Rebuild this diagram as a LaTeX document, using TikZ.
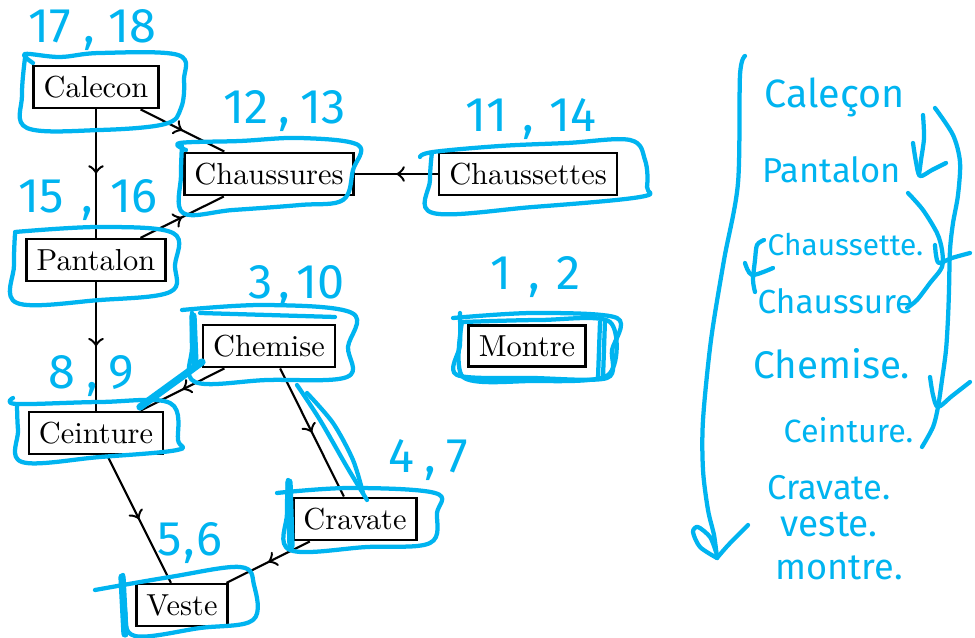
\documentclass[tikz,border=0pt]{standalone}
\usepackage{fontspec}
\usepackage{graphicx}
\usetikzlibrary{decorations.markings}
\newfontfamily\handfnt{Fira Sans}
\definecolor{hblue}{RGB}{0,180,240}
\begin{document}
\begin{tikzpicture}[x=0.011561cm, y=-0.011561cm,
 box/.style={draw, line width=0.85pt, inner sep=3.33pt},
 conn/.style={line width=0.7pt, postaction={decorate}, decoration={markings, mark=at position 0.5 with {\arrow[scale=1.15]{>}}}},
 hb/.style={draw=hblue, line width=1.4pt, line cap=round, line join=round},
 hbthick/.style={draw=hblue, line width=2.4pt, line cap=round, line join=round},
 num/.style={text=hblue, font=\handfnt\fontsize{16}{16}\selectfont, inner sep=0, anchor=base west},
 word/.style={text=hblue, font=\handfnt, inner sep=0, anchor=base west}]
\fill[white] (0,0) rectangle (975,638);
\useasboundingbox (0,0) rectangle (975,638);

% nodes
\node[box] (calecon) at (96,87) {Calecon};
\node[box] (chaussures) at (269,174) {Chaussures};
\node[box] (chaussettes) at (528,174) {Chaussettes};
\node[box] (pantalon) at (96,260) {Pantalon};
\node[box] (chemise) at (269,346) {Chemise};
\node[box] (montre) at (527,346) {Montre};
\node[box] (ceinture) at (96,433) {Ceinture};
\node[box] (cravate) at (355,519) {Cravate};
\node[box] (veste) at (182,605) {Veste};

% connectors
\draw[conn] (calecon) -- (pantalon);
\draw[conn] (calecon) -- (chaussures);
\draw[conn] (pantalon) -- (chaussures);
\draw[conn] (chaussettes) -- (chaussures);
\draw[conn] (pantalon) -- (ceinture);
\draw[conn] (chemise) -- (ceinture);
\draw[conn] (chemise) -- (cravate);
\draw[conn] (ceinture) -- (veste);
\draw[conn] (cravate) -- (veste);

% hand-drawn loops around nodes
\draw[hb] plot[smooth, tension=0.6] coordinates {(33,63) (25,54) (60,57) (100,53) (178,55) (184,80) (181,108) (165,124) (100,130) (27,128) (22,95) (25,58)};
\draw[hb] plot[smooth, tension=0.6] coordinates {(186,150) (180,143) (240,141) (300,138) (358,145) (353,170) (343,200) (300,205) (233,210) (183,213) (181,175) (182,146)};
\draw[hb] plot[smooth, tension=0.6] coordinates {(420,157) (433,152) (500,146) (567,143) (630,140) (645,160) (647,187) (640,197) (533,207) (433,213) (430,180) (432,152)};
\draw[hb] plot[smooth, tension=0.6] coordinates {(15,232) (100,227) (173,233) (175,265) (170,292) (100,300) (17,303) (14,265) (15,234)};
\draw[hb] plot[smooth, tension=0.6] coordinates {(182,310) (267,305) (352,313) (348,347) (347,377) (267,380) (195,382) (192,347) (192,313)};
\draw[hb] (200,313) -- (335,317);
\draw[hbthick] (193,316) -- (195,364);
\draw[hb] plot[smooth, tension=0.6] coordinates {(13,398) (17,404) (100,402) (170,403) (178,440) (177,450) (100,457) (22,462) (18,430) (17,404)};
\draw[hb] plot[smooth, tension=0.6] coordinates {(277,493) (350,488) (435,493) (437,513) (430,543) (367,547) (290,550) (287,513) (288,480)};
\draw[hbthick] (289,482) -- (291,546);
\draw[hb] plot[smooth, tension=0.6] coordinates {(95,590) (170,577) (240,567) (254,585) (253,620) (200,628) (135,636) (125,610) (123,575)};
\draw[hbthick] (122,577) -- (125,634);
\draw[hb] plot[smooth, tension=0.5] coordinates {(453,318) (533,313) (617,318) (612,350) (607,378) (533,378) (457,375) (460,345) (460,313)};
\draw[hb] plot[smooth, tension=0.5] coordinates {(462,322) (540,320) (610,322) (608,375) (530,381) (463,377) (462,322)};
\draw[hb] (600,322) -- (598,378);
\draw[hb] (605,320) -- (603,378);

% extra strokes over connectors
\draw[hbthick] (202,362) -- (140,407);
\draw[hb] (193,370) -- (147,403);
\draw[hb] plot[smooth] coordinates {(297,385) (320,420) (347,467) (367,500)};
\draw[hb] plot[smooth] coordinates {(307,393) (333,423) (353,460) (363,493)};

% numbers
\node[num] (n1718) at (28,43) {17\hspace{4.2pt},\hspace{4.2pt}18};
\node[num] (n1213) at (223,124) {12\hspace{3.3pt},\hspace{3.3pt}13};
\node[num] (n1114) at (465,132) {11\hspace{5.1pt},\hspace{5.1pt}14};
\node[num] (n1516) at (18,213) {15\hspace{5.8pt},\hspace{5.8pt}16};
\node[num] (n310) at (248,299) {3\hspace{2pt},\hspace{2pt}10};
\node[num] (n12) at (490,290) {1\hspace{5.5pt},\hspace{5.5pt}2};
\node[num] (n89) at (48,389) {8\hspace{3.6pt},\hspace{3.6pt}9};
\node[num] (n47) at (388,473) {4\hspace{3.3pt},\hspace{3.3pt}7};
\node[num] (n56) at (157,556) {5\hspace{0.5pt},\hspace{0.5pt}6};

% right list
\node[word] (w1) at (764,108) {\resizebox{1.62cm}{!}{Caleçon}};
\node[word] (w2) at (762,183) {\resizebox{1.6cm}{!}{Pantalon}};
\node[word] (w3) at (767,256) {\resizebox{1.8cm}{!}{Chaussette.}};
\node[word] (w4) at (757,314) {\resizebox{1.8cm}{!}{Chaussure}};
\node[word] (w5) at (753,379) {\resizebox{1.81cm}{!}{Chemise.}};
\node[word] (w6) at (783,443) {\resizebox{1.5cm}{!}{Ceinture.}};
\node[word] (w7) at (767,499) {\resizebox{1.42cm}{!}{Cravate.}};
\node[word] (w8) at (780,536) {\resizebox{1.12cm}{!}{veste.}};
\node[word] (w9) at (775,579) {\resizebox{1.47cm}{!}{montre.}};

% big order arrow
\draw[hb] plot[smooth] coordinates {(745,56) (740,75) (738,183) (724,260) (711,340) (703,420) (703,470) (708,510) (714,535) (717,558)};
\draw[hb] (717,558) .. controls (728,545) .. (748,525);
\draw[hb] plot[smooth] coordinates {(717,558) (700,547) (693,532) (698,527) (710,537) (716,552)};

% swap strokes
\draw[hb] plot[smooth] coordinates {(923,115) (924,138) (921,160) (919,175)};
\draw[hb] plot[smooth] coordinates {(913,143) (916,162) (920,176) (932,170) (946,163)};
\draw[hb] plot[smooth] coordinates {(935,108) (953,135) (960,162) (958,195) (953,223) (950,250) (949,290) (948,318) (946,350) (942,380) (938,407) (933,427) (922,447)};
\draw[hb] plot[smooth] coordinates {(930,377) (933,395) (938,407) (952,396) (970,382)};
\draw[hb] plot[smooth] coordinates {(908,193) (923,210) (937,233) (942,250) (942,267) (930,283) (917,300) (907,308)};
\draw[hb] plot[smooth] coordinates {(935,245) (936,255) (939,263) (952,258) (970,253)};
\draw[hb] plot[smooth] coordinates {(764,240) (757,245) (755,260) (753,280) (755,292)};
\draw[hb] plot[smooth] coordinates {(745,263) (752,275) (773,268)};
\end{tikzpicture}
\end{document}
